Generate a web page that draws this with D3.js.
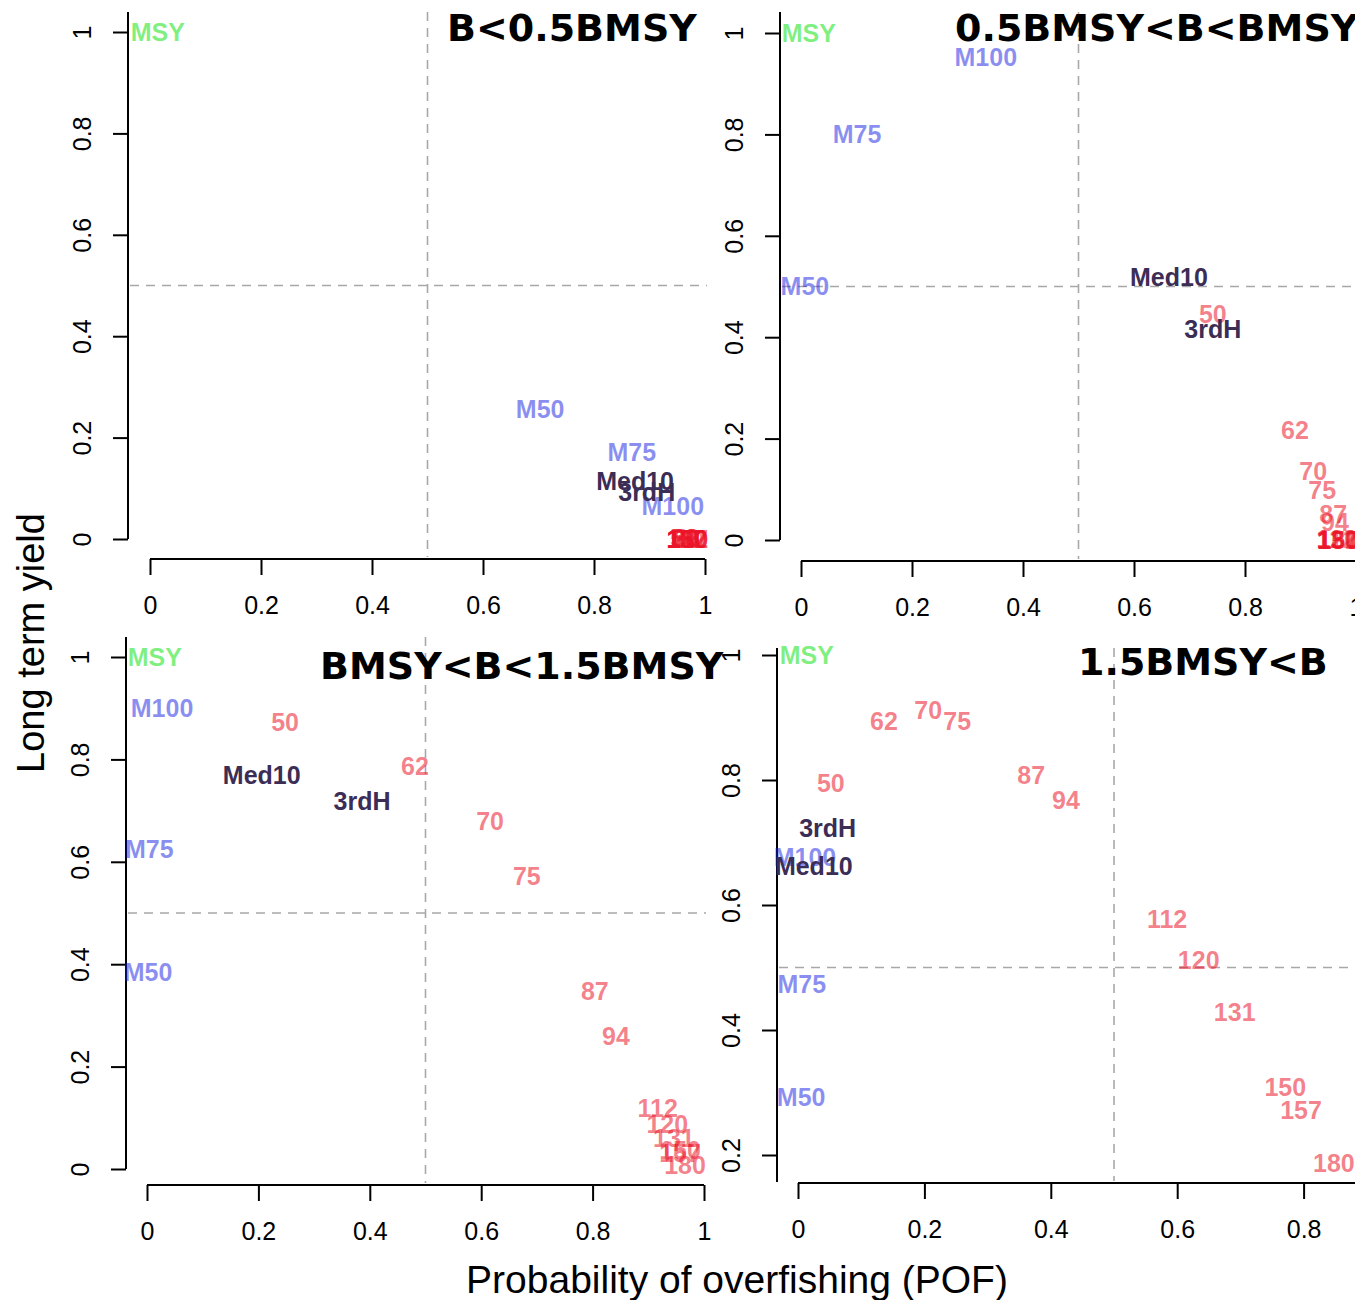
<!DOCTYPE html>
<meta charset="utf-8">
<style>
body { margin: 0; background: #fff; }
.tick text, .axtitle { font-family: "Liberation Sans", Arial, Helvetica, sans-serif; fill: #000; }
.lab { font: bold 25px "Liberation Sans", Arial, Helvetica, sans-serif; text-anchor: middle; }
.ptitle { font: bold 38px "DejaVu Sans", sans-serif; }
</style>
<svg width="1355" height="1300"></svg>
<script src="https://cdn.jsdelivr.net/npm/d3@7/dist/d3.min.js"></script>
<script>

// harvest control rules, one label per point
var rules = ["MSY", "M50", "M75", "M100", "Med10", "3rdH",
             "50", "62", "70", "75", "87", "94", "112", "120", "131", "150", "157", "180"];

// probability of overfishing / long term yield, per stock status
var pofP1 = [0.014, 0.703, 0.868, 0.942, 0.874, 0.895,
             0.962, 0.964, 0.965, 0.966, 0.967, 0.967, 0.968, 0.968, 0.968, 0.968, 0.968, 0.968];
var yldP1 = [1.0, 0.256, 0.172, 0.065, 0.114, 0.093,
             0.002, 0.001, 0.001, 0, 0, 0, 0, 0, 0, 0, 0, 0];

var pofP2 = [0.014, 0.007, 0.101, 0.333, 0.663, 0.742,
             0.742, 0.890, 0.923, 0.939, 0.959, 0.962, 0.965, 0.966, 0.967, 0.968, 0.968, 0.968];
var yldP2 = [1.0, 0.501, 0.801, 0.953, 0.519, 0.416,
             0.446, 0.217, 0.136, 0.099, 0.051, 0.036, 0.002, 0.001, 0, 0, 0, 0];

var pofP3 = [0.014, 0.002, 0.004, 0.027, 0.206, 0.386,
             0.248, 0.481, 0.616, 0.682, 0.804, 0.842, 0.917, 0.934, 0.946, 0.957, 0.957, 0.966];
var yldP3 = [1.0, 0.385, 0.625, 0.900, 0.770, 0.719,
             0.873, 0.787, 0.680, 0.572, 0.348, 0.260, 0.119, 0.088, 0.061, 0.037, 0.031, 0.008];

var pofP4 = [0.014, 0.005, 0.006, 0.011, 0.025, 0.047,
             0.052, 0.136, 0.206, 0.252, 0.369, 0.424, 0.584, 0.634, 0.691, 0.771, 0.796, 0.848];
var yldP4 = [1.0, 0.293, 0.474, 0.677, 0.662, 0.723,
             0.795, 0.894, 0.912, 0.894, 0.808, 0.768, 0.578, 0.512, 0.429, 0.309, 0.272, 0.187];

var titles = ["B<0.5BMSY", "0.5BMSY<B<BMSY", "BMSY<B<1.5BMSY", "1.5BMSY<B"];
var xTicks = [0, 0.2, 0.4, 0.6, 0.8, 1];
var yTicks = [0, 0.2, 0.4, 0.6, 0.8, 1];
var yTicks4 = [0.2, 0.4, 0.6, 0.8, 1];

// layout of the four panels
var panels = [
  {title: titles[0], pof: pofP1, yld: yldP1, xr: [150, 705], yr: [539, 32], yd: [0, 1], yt: yTicks,
   axX: 128, axY: 559, top: 12, yEnd: 539, right: 707, tx: 447, ty: 41},
  {title: titles[1], pof: pofP2, yld: yldP2, xr: [801, 1356], yr: [540, 33], yd: [0, 1], yt: yTicks,
   axX: 780, axY: 561, top: 12, yEnd: 540, right: 1355, tx: 955, ty: 41},
  {title: titles[2], pof: pofP3, yld: yldP3, xr: [147, 704], yr: [1169, 657], yd: [0, 1], yt: yTicks,
   axX: 126, axY: 1185, top: 637, yEnd: 1169, right: 706, tx: 320, ty: 679},
  {title: titles[3], pof: pofP4, yld: yldP4, xr: [798, 1430], yr: [1155, 655], yd: [0.2, 1], yt: yTicks4,
   axX: 777, axY: 1183, top: 648, yEnd: 1182, right: 1355, tx: 1078, ty: 675}
];

function colour(r) {
  if (r === "MSY") return "rgba(0,225,0,0.5)";
  if (r.charAt(0) === "M" && r !== "Med10") return "rgba(20,30,225,0.5)";
  if (r === "Med10" || r === "3rdH") return "#3b2d55";
  return "rgba(235,20,40,0.55)";
}
function layer(r) {
  if (r === "MSY") return 3;
  if (r === "Med10" || r === "3rdH") return 2;
  if (r.charAt(0) === "M") return 1;
  return 0;
}

var svg = d3.select("svg");
svg.append("rect").attr("width", 1355).attr("height", 1300).attr("fill", "#fff");

// draw panel 4 before 3 so the panel 3 title sits on top
[0, 1, 3, 2].forEach(function(i) {
  var p = panels[i];
  var g = svg.append("g");
  var x = d3.scaleLinear().domain([0, 1]).range(p.xr);
  var y = d3.scaleLinear().domain(p.yd).range(p.yr);

  // reference lines at 0.5
  g.append("line")
      .attr("x1", x(0.5)).attr("x2", x(0.5))
      .attr("y1", p.top).attr("y2", p.axY - 2)
      .attr("stroke", "#a8a8a8").attr("stroke-width", 1.6).attr("stroke-dasharray", "9,7");
  g.append("line")
      .attr("x1", p.axX + 2).attr("x2", p.right)
      .attr("y1", y(0.5)).attr("y2", y(0.5))
      .attr("stroke", "#a8a8a8").attr("stroke-width", 1.6).attr("stroke-dasharray", "9,7");

  // x axis
  var xa = g.append("g")
      .attr("transform", "translate(0," + p.axY + ")")
      .call(d3.axisBottom(x).tickValues(xTicks).tickSize(16).tickSizeOuter(0).tickPadding(21)
        .tickFormat(function(d) { return String(d); }));
  xa.select(".domain").remove();
  xa.append("line").attr("x1", x(0)).attr("x2", x(1)).attr("stroke", "#000").attr("stroke-width", 2);
  xa.selectAll(".tick line").attr("stroke-width", 2);
  xa.selectAll(".tick text").style("font-size", "25px");

  // y axis
  var ya = g.append("g")
      .attr("transform", "translate(" + p.axX + ",0)")
      .call(d3.axisLeft(y).tickValues(p.yt).tickSize(15).tickSizeOuter(0)
        .tickFormat(function(d) { return String(d); }));
  ya.select(".domain").remove();
  ya.append("line").attr("y1", p.top).attr("y2", p.yEnd).attr("stroke", "#000").attr("stroke-width", 2);
  ya.selectAll(".tick line").attr("stroke-width", 2);
  ya.selectAll(".tick text")
      .attr("x", null).attr("dy", null)
      .attr("text-anchor", "middle")
      .attr("transform", "translate(-37,0) rotate(-90)")
      .style("font-size", "25px");

  // labels
  var idx = d3.range(rules.length).sort(function(a, b) { return layer(rules[a]) - layer(rules[b]); });
  g.selectAll("text.lab")
    .data(idx)
    .enter().append("text")
      .attr("class", "lab")
      .attr("x", function(d) { return x(p.pof[d]); })
      .attr("y", function(d) { return y(p.yld[d]); })
      .attr("dy", "0.36em")
      .attr("fill", function(d) { return colour(rules[d]); })
      .text(function(d) { return rules[d]; });

  g.append("text")
      .attr("class", "ptitle")
      .attr("x", p.tx).attr("y", p.ty)
      .text(p.title);
});

svg.append("text")
    .attr("class", "axtitle")
    .attr("transform", "translate(44,643) rotate(-90)")
    .attr("text-anchor", "middle")
    .style("font-size", "38px")
    .text("Long term yield");

svg.append("text")
    .attr("class", "axtitle")
    .attr("x", 737).attr("y", 1293)
    .attr("text-anchor", "middle")
    .style("font-size", "39px")
    .text("Probability of overfishing (POF)");

</script>
